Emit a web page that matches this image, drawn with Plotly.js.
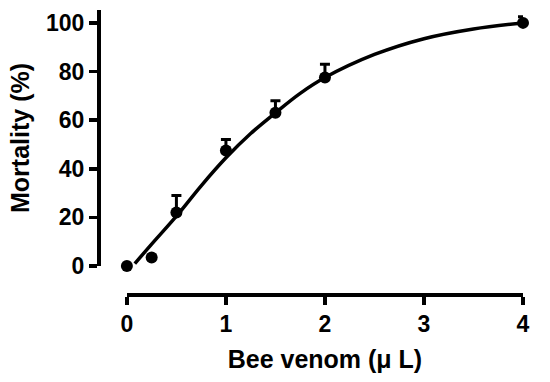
<!DOCTYPE html>
<html>
<head>
<meta charset="utf-8">
<script src="https://cdn.plot.ly/plotly-3.0.1.min.js"></script>
<style>
body { margin: 0; background: #fff; }
#plot { width: 550px; height: 382px; }
</style>
</head>
<body>
<div id="plot"></div>
<script>
// measured points (mean + upper SEM)
var dose = [0, 0.25, 0.5, 1, 1.5, 2, 4];
var mortality = [0, 3.5, 22, 47.5, 63, 77.5, 100];
var err_up = [0, 0, 7, 4.5, 5, 5.5, 2.5];

// fitted curve
var fit_x = [0.08, 0.25, 0.5, 0.75, 1, 1.25, 1.5, 1.75, 2, 2.5, 3, 3.5, 4];
var fit_y = [1, 9, 20.5, 33, 44.5, 54.5, 63, 71, 77.5, 87, 93.5, 97.5, 100];

var x_ticks = [0, 1, 2, 3, 4];
var y_ticks = [0, 20, 40, 60, 80, 100];

var axfont = {family: "Liberation Sans, Arial", size: 23, color: "#000", weight: 700};
var titlefont = {family: "Liberation Sans, Arial", size: 25, color: "#000", weight: 700};
var linewidth = 3.5;

var curve = {
	mode: "lines",
	x: fit_x,
	y: fit_y,
	line: {shape: "spline", color: "#000", width: linewidth},
	cliponaxis: false,
	hoverinfo: "skip"
};

var points = {
	mode: "markers",
	x: dose,
	y: mortality,
	marker: {color: "#000", size: 12},
	error_y: {
		type: "data",
		symmetric: false,
		array: err_up,
		arrayminus: dose.map(function () { return 0; }),
		color: "#000",
		thickness: 3,
		width: 5
	},
	cliponaxis: false
};

var layout = {
	width: 550,
	height: 382,
	paper_bgcolor: "#fff",
	plot_bgcolor: "#fff",
	showlegend: false,
	margin: {l: 98, r: 27, t: 10, b: 88},
	font: axfont,
	xaxis: {
		domain: [0.068, 1],
		range: [0, 4],
		anchor: "free",
		position: 0,
		tickvals: x_ticks,
		ticktext: x_ticks.map(String),
		ticks: "outside",
		ticklen: 8,
		tickwidth: linewidth,
		tickcolor: "#000",
		showline: true,
		linecolor: "#000",
		linewidth: linewidth,
		showgrid: false,
		zeroline: false,
		tickfont: axfont,
		title: {text: "Bee venom (\u03bc L)", font: titlefont, standoff: 14}
	},
	yaxis: {
		domain: [0.0986, 1],
		range: [0, 105.3],
		anchor: "free",
		position: 0,
		tickvals: y_ticks,
		ticktext: y_ticks.map(String),
		ticks: "outside",
		ticklen: 8,
		tickwidth: linewidth,
		tickcolor: "#000",
		showline: true,
		linecolor: "#000",
		linewidth: linewidth,
		showgrid: false,
		zeroline: false,
		tickfont: axfont,
		title: {text: "Mortality (%)", font: titlefont, standoff: 8}
	}
};

Plotly.newPlot("plot", [curve, points], layout, {displayModeBar: false, staticPlot: true});
</script>
</body>
</html>
